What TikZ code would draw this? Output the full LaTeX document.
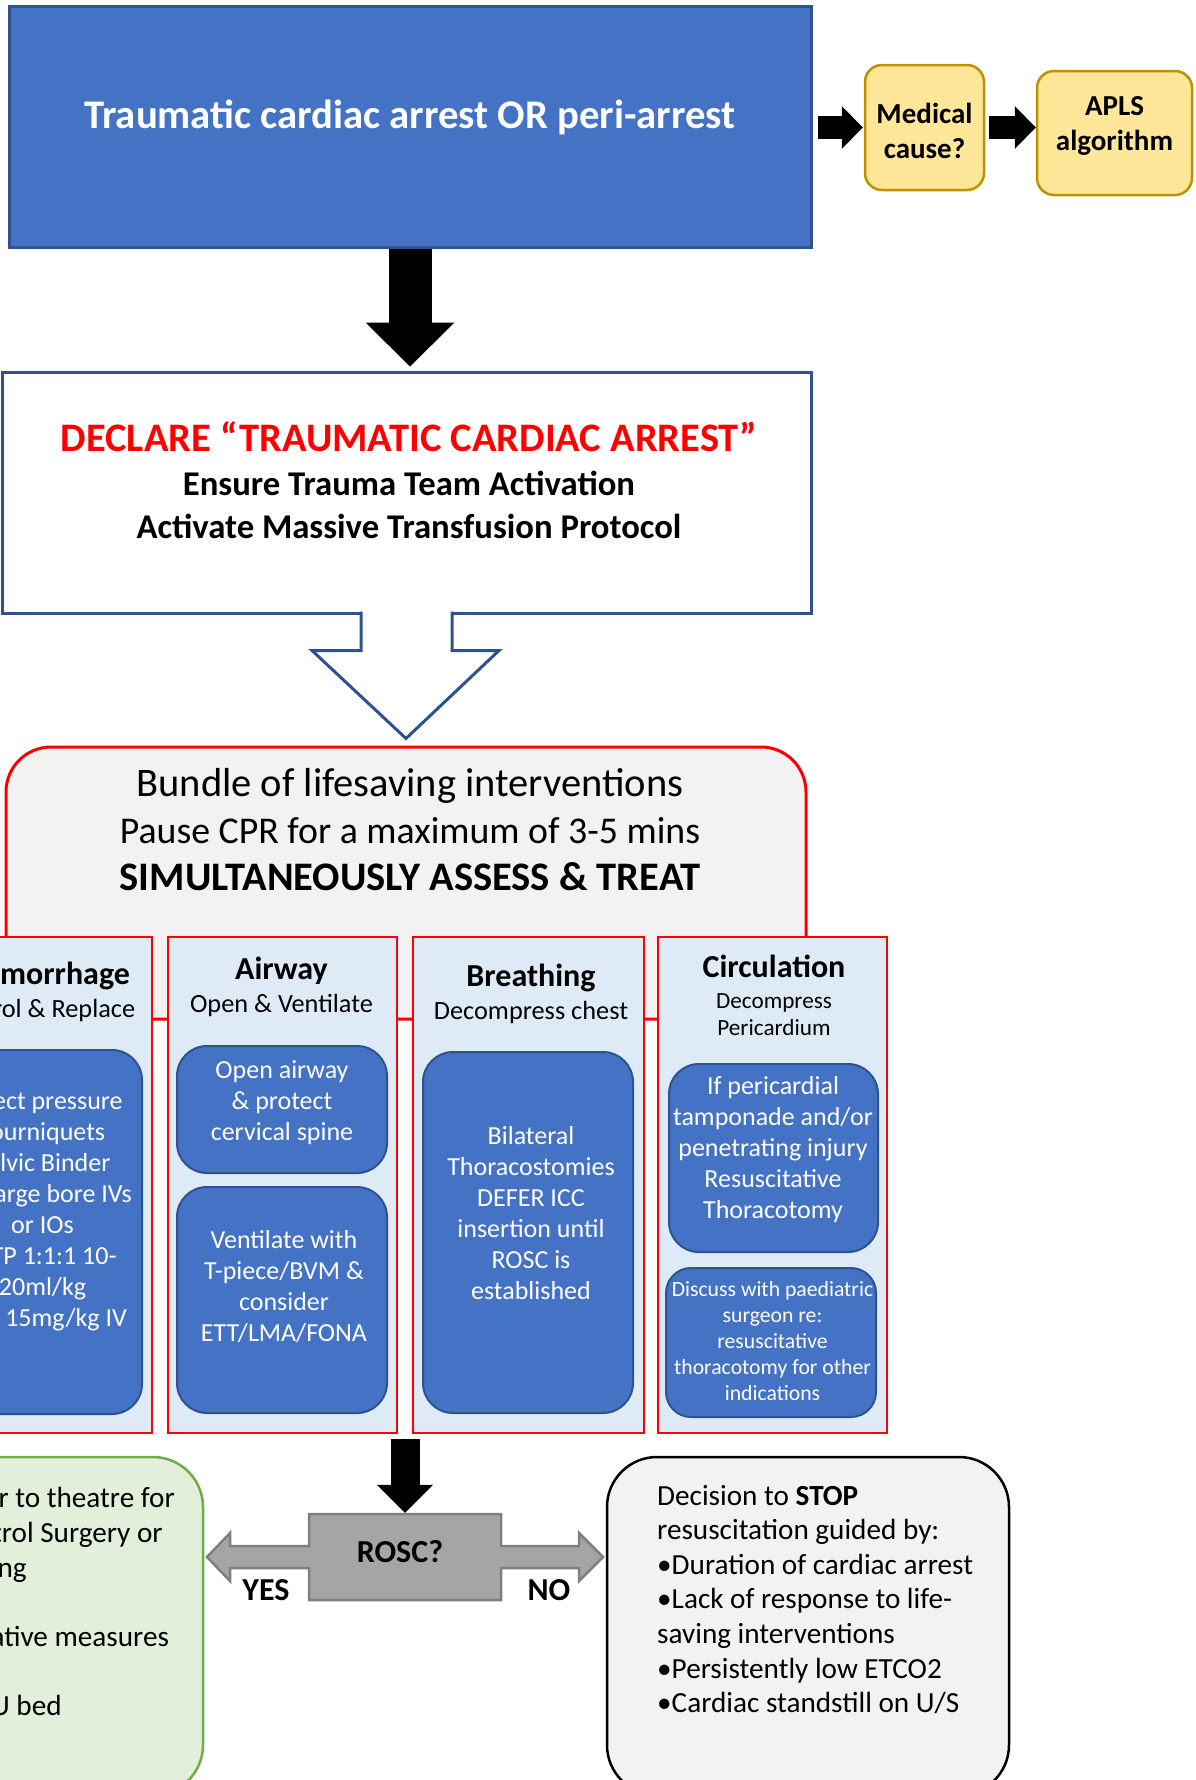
\documentclass[tikz,border=0pt]{standalone}
\usepackage{fontspec}
\setmainfont{Carlito}
\usetikzlibrary{arrows.meta,calc}
\definecolor{boxblue}{HTML}{4472C4}
\definecolor{edgeblue}{HTML}{2F528F}
\definecolor{paleyellow}{HTML}{FFE699}
\definecolor{gold}{HTML}{BF9000}
\definecolor{palegray}{HTML}{F2F2F2}
\definecolor{paleblue}{HTML}{DEEBF7}
\definecolor{palegreen}{HTML}{E2EFDA}
\definecolor{leafgreen}{HTML}{70AD47}
\definecolor{roscgray}{HTML}{A5A5A5}
\definecolor{roscedge}{HTML}{7F7F7F}
\definecolor{alarmred}{HTML}{FF0000}

\begin{document}
\begin{tikzpicture}[x=1pt, y=-1pt,
        bluebox/.style={draw=edgeblue, fill=boxblue, line width=3pt},
        yellowbox/.style={draw=gold, fill=paleyellow, line width=2.5pt, rounded corners=17pt},
        yellowtext/.style={align=center, font=\fontsize{29}{35}\selectfont\bfseries},
        whitebox/.style={draw=edgeblue, fill=white, line width=3pt},
        bundlebox/.style={draw=alarmred, fill=palegray, line width=3pt, rounded corners=45pt},
        column/.style={draw=alarmred, fill=paleblue, line width=2.5pt, minimum height=496pt},
        colhead/.style={align=center, font=\fontsize{26.3}{33}\selectfont},
        innerbox/.style={draw=edgeblue, fill=boxblue, line width=2pt, rounded corners=30pt},
        innertext/.style={text=white, align=center, font=\fontsize{26}{31}\selectfont},
        notebox/.style={line width=2.5pt, rounded corners=50pt, minimum width=402pt, minimum height=338pt},
        notetext/.style={anchor=west, align=left, inner sep=0pt, font=\fontsize{29.2}{34.6}\selectfont},
        bigarrow/.style={line width=43pt, -{Triangle[length=44pt, width=89pt, line width=0pt]}},
        sidearrow/.style={line width=23pt, -{Triangle[length=21pt, width=43pt, line width=0pt]}},
        downarrow/.style={line width=29pt, -{Triangle[length=28pt, width=56pt, line width=0pt]}},
        hollowarrow/.style={draw=edgeblue, fill=white, line width=3pt},
        roscshape/.style={draw=roscedge, fill=roscgray, line width=2.5pt},
        verdict/.style={font=\fontsize{32}{36}\selectfont\bfseries}]
        \useasboundingbox (0,0) rectangle (1196,1780);
        \clip (0,0) rectangle (1196,1780);

        \node (title) at (410,126.5) [bluebox, minimum width=802pt, minimum height=241pt]{};
        \node (titletext) at (410,117) [text=white, font=\fontsize{40.7}{48}\selectfont\bfseries]{Traumatic cardiac arrest OR peri-arrest};
        \node (medical) at (924.5,127.5) [yellowbox, minimum width=119pt, minimum height=125pt]{};
        \node (medicaltext) at (924.5,131) [yellowtext]{Medical\\cause?};
        \node (apls) at (1114.5,133) [yellowbox, minimum width=155pt, minimum height=124pt]{};
        \node (aplstext) at (1114.5,125.5) [yellowtext]{APLS\\algorithm};
        \draw[sidearrow, shorten <=5pt, shorten >=1pt] (medical.west -| title.east) -- (medical.west);
        \draw[sidearrow, shorten <=4pt] (medical.east) -- (medical.east -| apls.west);

        \node (declare) at (406.5,492.5) [whitebox, minimum width=809pt, minimum height=241pt]{};
        \node (declaretext) at (409,480.5) [align=center, font=\fontsize{34.7}{43.5}\selectfont\bfseries]{\textcolor{alarmred}{\fontsize{40.5}{45}\selectfont DECLARE “TRAUMATIC CARDIAC ARREST”}\\Ensure Trauma Team Activation\\Activate Massive Transfusion Protocol};
        \draw[bigarrow, shorten >=4pt] (title.south) -- (title.south |- declare.north);

        \node (bundle) at (406,883) [bundlebox, minimum width=800pt, minimum height=272pt]{};
        \node (bundletext) at (410,830) [align=center, font=\fontsize{37.8}{47}\selectfont]{{\fontsize{40.5}{47}\selectfont Bundle of lifesaving interventions}\\Pause CPR for a maximum of 3-5 mins\\{\fontsize{40.5}{47}\selectfont\bfseries SIMULTANEOUSLY ASSESS \& TREAT}};
        \draw[hollowarrow] ($(declare.south)+(-45.5,-3)$) -- ++(0,39) -- ++(-49,0) -- ($(bundle.north)+(0,-7)$) -- ($(declare.south)+(92.5,36)$) -- ++(-47,0) -- ++(0,-39);

        \node (haem) at (43,1185) [column, minimum width=218pt]{};
        \node (airway) at (282.5,1185) [column, minimum width=229pt]{};
        \node (breathing) at (528.5,1185) [column, minimum width=231pt]{};
        \node (circulation) at (772.5,1185) [column, minimum width=229pt]{};
        \node (haemhead) at (39,992) [colhead]{\textbf{\fontsize{32}{36}\selectfont Haemorrhage}\\Control \& Replace};
        \node (airwayhead) at (281.5,987) [colhead]{\textbf{\fontsize{32}{36}\selectfont Airway}\\Open \& Ventilate};
        \node (breathinghead) at (531,993.5) [colhead]{\textbf{\fontsize{32}{36}\selectfont Breathing}\\Decompress chest};
        \node (circulationhead) at (774,995) [colhead, font=\fontsize{23.2}{31}\selectfont]{\textbf{\fontsize{32}{36}\selectfont Circulation}\\Decompress\\[-4pt]Pericardium};

        \node (haembox) at (42.5,1232) [innerbox, minimum width=199pt, minimum height=364pt]{};
        \node (haemtext) at (42.5,1211.5) [innertext]{Direct pressure\\Tourniquets\\Pelvic Binder\\2x Large bore IVs\\or IOs\\MTP 1:1:1 10-\\20ml/kg\\TXA 15mg/kg IV};
        \node (openbox) at (282,1109.5) [innerbox, minimum width=210pt, minimum height=127pt]{};
        \node (opentext) at (282,1102.5) [innertext]{Open airway\\\& protect\\cervical spine};
        \node (ventbox) at (282,1300) [innerbox, minimum width=210pt, minimum height=226pt]{};
        \node (venttext) at (284,1286.5) [innertext]{Ventilate with\\T-piece/BVM \&\\consider\\ETT/LMA/FONA};
        \node (thorbox) at (528,1232.5) [innerbox, minimum width=210pt, minimum height=361pt]{};
        \node (thortext) at (531,1213.5) [innertext]{Bilateral\\Thoracostomies\\DEFER ICC\\insertion until\\ROSC is\\established};
        \node (tampbox) at (773.5,1158) [innerbox, minimum width=209pt, minimum height=188pt]{};
        \node (tamptext) at (773,1150) [innertext]{If pericardial\\tamponade and/or\\penetrating injury\\Resuscitative\\Thoracotomy};
        \node (discussbox) at (771,1342.5) [innerbox, minimum width=210pt, minimum height=149pt, rounded corners=25pt]{};
        \node (discusstext) at (772.5,1341) [innertext, font=\fontsize{21.7}{26}\selectfont]{Discuss with paediatric\\surgeon re:\\resuscitative\\thoracotomy for other\\indications};

        \coordinate (roscmid) at (405,1557);
        \draw[roscshape] ($(roscmid)+(-96,-43)$) -- ++(192,0) -- ++(0,32) -- ++(78,0) -- ++(0,-13) -- ++(24,24) -- ++(-24,24) -- ++(0,-13) -- ++(-78,0) -- ++(0,32) -- ++(-192,0) -- ++(0,-32) -- ++(-79,0) -- ++(0,13) -- ++(-23,-24) -- ++(23,-24) -- ++(0,13) -- ++(79,0) -- cycle;
        \node (rosc) at (roscmid) [minimum width=192pt, minimum height=86pt]{};
        \node (rosctext) at (400,1552) [verdict]{ROSC?};
        \draw[downarrow, shorten <=5pt, shorten >=1pt] ($(airway.south east)!0.5!(breathing.south west)$) -- (rosc.north);
        \node (yes) at (266,1590) [verdict]{YES};
        \node (no) at (549,1590) [verdict]{NO};

        \node (onward) at (1.5,1626) [notebox, draw=leafgreen, fill=palegreen, minimum width=403pt]{};
        \node (onwardtext) at (-158,1604) [notetext]{Rapid transfer to theatre for\\Damage Control Surgery or\\further imaging\\[34.6pt]Post resuscitative measures\\[34.6pt]Organise PICU bed};
        \node (stop) at (808,1626) [notebox, draw=black, fill=palegray]{};
        \node (stoptext) at (657,1599.5) [notetext]{Decision to \textbf{STOP}\\resuscitation guided by:\\•Duration of cardiac arrest\\•Lack of response to life-\\saving interventions\\•Persistently low ETCO2\\•Cardiac standstill on U/S};
\end{tikzpicture}
\end{document}
